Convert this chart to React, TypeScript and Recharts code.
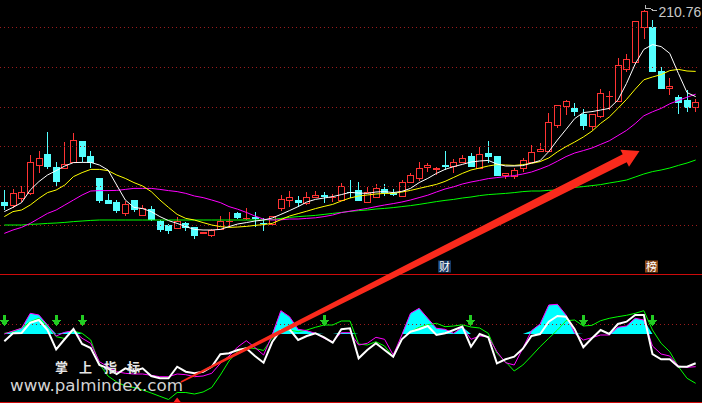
import React from "react";
import {
  ComposedChart,
  Bar,
  Line,
  Area,
  XAxis,
  YAxis,
  ReferenceLine,
  ReferenceDot,
} from "recharts";

// daily candles
const opens = [
  115, 113, 116.6, 119, 132.8, 139, 132.5, 131.7, 134.7, 145.5,
  138, 127, 116, 115, 109.2, 116, 108.2, 111.4, 105.7, 103.5,
  101.7, 104.7, 102.5, 98.9, 98.2, 101, 105.4, 109.5, 106.5, 107.7,
  104.5, 103.5, 111.4, 115.7, 116, 113.9, 117.2, 118.5, 117, 115.7,
  120.2, 121, 114.7, 116.9, 121.4, 119.4, 117.7, 124.4, 126.4, 132.2,
  131, 133.5, 132.4, 134.7, 138, 131.4, 139.5, 138, 128, 127.7,
  131.4, 134.4, 139.9, 140.2, 153, 162.7, 162, 159, 152.7, 157.7,
  167.8, 165.2, 181, 184.4, 202.2, 202.4, 180.5, 171.4, 167.7, 166,
  161.9,
];
const highs = [
  121, 121.5, 122.8, 138.6, 140.5, 150, 135, 145, 149.5, 145.5,
  140.5, 127, 119, 116, 115.7, 116, 113.5, 113, 106, 104,
  107.4, 105, 102.5, 100, 101.5, 108, 110, 110, 111.8, 110,
  106.8, 108.2, 118.5, 120.5, 118, 120, 120.5, 120, 119, 124.4,
  125.9, 125, 122.5, 124, 123.9, 121.5, 125.9, 129.4, 135, 134.4,
  132.5, 140.5, 136.5, 138.5, 139.7, 142.4, 145.5, 138, 129.7, 131.9,
  136.9, 143.5, 144.7, 159.4, 163.4, 166, 164.4, 161.7, 158.9, 171.5,
  170.7, 186.9, 189, 205.5, 210.76, 206, 182.7, 176.9, 168.5, 171,
  166.4,
];
const lows = [
  111, 112, 115.2, 118.5, 129.3, 131.7, 122.3, 131.5, 134.3, 135,
  131.8, 114.3, 114, 109.7, 108.2, 110.2, 108.2, 105.7, 100, 99,
  101.5, 100.5, 96.7, 98.9, 97.7, 101, 103, 106.5, 106, 102.7,
  100.5, 103.5, 110.5, 112.7, 112.7, 113.5, 117, 114.4, 115.2, 115.7,
  116.9, 115.7, 114.7, 116.9, 118, 118, 117.7, 124.4, 125.5, 130.2,
  128.5, 131, 129.4, 134.4, 132.7, 131.4, 134.4, 128, 126.4, 126.4,
  130.2, 134.4, 139.9, 140.2, 152.2, 158.5, 158, 151, 151, 157,
  161, 165.2, 180.2, 184.4, 196.4, 180, 171.4, 168.5, 158.9, 160.2,
  159.9,
];
const closes = [
  113, 119.3, 120, 135, 136.8, 132.7, 125, 133.8, 145.8, 137.7,
  134.7, 115.7, 114.2, 110.7, 114, 111, 112.2, 106, 101, 100.5,
  105.5, 101.9, 98.2, 100, 101, 105.5, 105.5, 107, 107.2, 106.4,
  104.2, 108.2, 116.5, 117.4, 114.4, 117.4, 118.4, 117.7, 117.7, 123,
  119.7, 115.7, 119.9, 121.9, 119.7, 118.4, 124.9, 128.4, 131.9, 133.5,
  131.9, 132.7, 135, 136.9, 132.7, 139, 137.4, 128, 129.7, 131,
  136, 139.9, 141.4, 154.9, 163.4, 165.4, 160.2, 153, 158.9, 169.4,
  168, 183.4, 186.4, 205.5, 210.6, 180, 171.4, 173.2, 164.7, 162.2,
  165.2,
];

// moving averages as drawn
const ma5 = [
  110.2, 112.3, 114.7, 121, 125.2, 128.5, 130.7, 133, 134.7, 134.8,
  134.8, 133.5, 131, 123.5, 116, 112.3, 111.7, 110.2, 107.7, 105.7,
  104.3, 102.7, 101.3, 101, 101, 101.3, 102.7, 104, 104.7, 105.5,
  106, 107, 108.8, 110.7, 112.7, 115, 116.3, 117, 117.7, 118.7,
  119.8, 119.5, 119.3, 120, 120.2, 119.7, 120.3, 121.8, 124.7, 126.8,
  129.3, 131.3, 132.7, 133.8, 135, 135.5, 135.8, 134, 133, 133,
  133.2, 134.5, 135.7, 140.2, 146, 151.3, 156.7, 159.7, 160.2, 161,
  161.8, 166, 174.3, 184, 191.3, 193.7, 192.7, 189.3, 179.3, 169.7,
  167.7,
];
const ma10 = [
  107.7, 110.2, 111, 113.5, 116.8, 119.7, 121, 123.5, 127.7, 129.7,
  131.3, 131.3, 130.7, 128.5, 126.8, 124.7, 123, 120.2, 116, 112.3,
  108.8, 106.8, 106, 104.7, 103.5, 102.7, 102.3, 102.5, 102.8, 103.3,
  103.7, 104.3, 106.2, 108, 109.2, 110.4, 111.7, 112.8, 113.8, 115.5,
  117, 118, 118.5, 119, 119.3, 119.3, 120, 120.8, 121.8, 122.8,
  123.8, 125.3, 127.3, 129.3, 131, 132, 133, 133.7, 133.5, 133.3,
  133.7, 134.3, 135.2, 137, 140.1, 142.7, 145, 147.5, 150.4, 154.3,
  157.5, 161.8, 166.3, 171.4, 176.1, 177.5, 178.7, 180.7, 181.3, 180.5,
  180.3,
];
const ma20 = [
  99.3, 101, 102.3, 104.3, 106.8, 109.3, 111, 113.5, 116, 118.5,
  120.5, 120.7, 120.7, 120.8, 121.3, 121.8, 121.8, 121.8, 121.3, 120.7,
  120.2, 119.3, 118, 117.2, 116, 114.7, 112.7, 111.4, 109.8, 108,
  106.4, 106, 106.1, 106.5, 106.5, 106.8, 107.1, 107.7, 108.5, 109.7,
  110.4, 111.1, 111.8, 112.7, 113.5, 114.2, 115, 116, 117.2, 118.4,
  120, 121.5, 122.6, 124, 125, 125.8, 126.7, 127.2, 127.7, 128.2,
  129, 130, 131.5, 133.2, 135.4, 137.7, 139.5, 140.7, 142, 143.8,
  145.6, 148.2, 150.8, 154.2, 158.1, 160.1, 161.8, 164.1, 165.8, 167.4,
  168.9,
];
const ma60 = [
  103.5, 103.5, 103.5, 103.8, 104, 104.3, 104.5, 104.8, 105.2, 105.5,
  105.8, 106, 106, 106, 106, 106, 106, 106, 106, 106,
  106, 106, 106, 106, 106, 106, 106, 106, 106, 106,
  106, 106.2, 106.8, 107.3, 107.7, 108, 108.3, 108.8, 109.3, 109.8,
  110.3, 110.7, 111, 111.5, 111.8, 112.2, 112.7, 113.2, 113.8, 114.5,
  115.2, 115.8, 116.3, 117, 117.5, 118.2, 118.7, 119, 119.3, 119.7,
  120.2, 120.5, 120.5, 120.8, 121, 121.7, 122.3, 122.7, 123.2, 123.7,
  124.5, 125.2, 126, 127.5, 129, 130.2, 131, 132, 133.3, 134.5,
  136,
];

// lower indicator panel
const oscWhite = [
  42.7, 50.7, 51, 61.3, 64, 54, 34.7, 45, 55, 40,
  36, 19, 15.7, 10, 15.7, 12.7, 15.7, 8, 5.7, 5.7,
  17.3, 12.3, 10.7, 12.3, 17.3, 29.7, 30.7, 34, 35.7, 28,
  21.3, 42, 54, 54.7, 44, 48, 50.7, 46.7, 41.3, 54.7,
  55.7, 25.7, 34, 40.7, 34, 27.3, 44.7, 52.3, 54.7, 58,
  49, 50.7, 54, 57.5, 37.3, 50, 46.7, 20.7, 24.7, 27.3,
  35.3, 48, 50, 62.3, 68, 67.3, 54.7, 36.7, 45.7, 54,
  50, 60, 62.3, 69, 69, 30, 24.7, 24.7, 17.3, 17.3,
  20.7,
];
const oscPink = [
  50, 53, 55.7, 70.7, 69, 59, 48, 51.7, 53.3, 45.7,
  40.7, 22.3, 17.3, 12.3, 10.7, 10, 10, 8.7, 7.3, 7.3,
  10, 9.3, 7.3, 8, 10.7, 20.7, 28, 37, 43.3, 36.5,
  29, 49, 73.3, 67.3, 54.7, 53.3, 50.7, 45.7, 42.3, 51.3,
  51.3, 39, 40.7, 46.7, 44.7, 29, 49, 70.7, 75.7, 65.7,
  55.7, 54.7, 50.7, 57, 44.7, 48, 47.3, 32.3, 21.3, 19,
  35.7, 53.3, 60, 79, 79.7, 69, 50.7, 44, 46.3, 49,
  49, 56.7, 58, 65.7, 64, 38, 30, 28, 18, 16.7,
  17.3,
];
const oscGreen = [
  50.7, 52.3, 56, 62.3, 65.7, 58, 47.3, 45.5, 53, 50.7,
  44, 20, 8, 2, -2, -3.5, -6, -9, -12.3, -15.5,
  -8.5, -8.5, -10, -8, -3.5, 9, 23, 33, 36.5, 35.5,
  33.5, 46, 53, 54, 52.3, 54, 56.7, 59, 59, 63,
  63, 40, 39, 42.3, 38, 27.3, 44.7, 52.3, 56.7, 59.3,
  60.7, 57.3, 58, 59.2, 57, 56, 50.7, 30.7, 22.3, 13,
  19, 28, 37.3, 45.7, 54, 63.3, 64, 58, 58.7, 63.3,
  65.7, 67.3, 68.7, 70.7, 73.3, 54, 40.7, 32.3, 17.3, 5.7,
  0.7,
];

const sellArrowDays = [0, 6, 9, 37, 54, 67, 75];
const buyMarkDays = [20];
const events = [
  { day: 51, label: "财", bg: "#173a66" },
  { day: 75, label: "榜", bg: "#8a4716" },
];
const gridPrices = [202.25, 182.25, 162.25, 142.75, 122.75, 103.25];

const RED = "#ff3333";
const CYAN = "#54ffff";
const GRID = "#9a1c1c";
const OSC_BASE = 50;
const EVENT_ROW = 82.75;
const ARROW_ROW = 57.5;
const PEAK = Math.max(...highs);

const priceRows = opens.map((o, i) => ({
  i,
  open: o,
  high: highs[i],
  low: lows[i],
  close: closes[i],
  ma5: ma5[i],
  ma10: ma10[i],
  ma20: ma20[i],
  ma60: ma60[i],
}));

const oscRows = oscWhite.map((w, i) => ({
  i,
  white: w,
  pink: oscPink[i],
  green: oscGreen[i],
}));

function Candle(props: any) {
  const { x, y, width, height, payload } = props;
  if (!payload || !Number.isFinite(y) || !Number.isFinite(height)) return null;
  const { open, close, high, low } = payload;
  const k = height / (high - low);
  const py = (v: number) => y + (high - v) * k;
  const cx = Math.floor(x + width / 2) + 0.5;
  const up = close >= open;
  const color = up ? RED : CYAN;
  const top = Math.round(py(Math.max(open, close)));
  const bot = Math.round(py(Math.min(open, close)));
  const yH = Math.round(py(high));
  const yL = Math.round(py(low));
  const flat = bot - top < 2;

  return (
    <g shapeRendering="crispEdges">
      {up ? (
        <>
          {top > yH && <line x1={cx} x2={cx} y1={yH} y2={top} stroke={color} />}
          {yL > bot && <line x1={cx} x2={cx} y1={bot} y2={yL} stroke={color} />}
        </>
      ) : (
        <line x1={cx} x2={cx} y1={yH} y2={yL} stroke={color} />
      )}
      {flat ? (
        <line x1={cx - 3.5} x2={cx + 3.5} y1={top + 0.5} y2={top + 0.5} stroke={color} />
      ) : up ? (
        <rect x={cx - 3} y={top + 0.5} width={6} height={bot - top - 1} fill="#000" stroke={color} />
      ) : (
        <rect x={cx - 3.5} y={top} width={7} height={bot - top} fill={color} />
      )}
      {high === PEAK && (
        <g>
          <polyline
            points={`${cx + 1},${yH - 5} ${cx + 1},${yH - 2} ${cx + 5},${yH - 2} ${cx + 8},${yH} ${cx + 12},${yH}`}
            fill="none"
            stroke="#b8b8b8"
          />
          <text x={cx + 14} y={yH + 7} fill="#c8c8c8" fontSize={14} fontFamily="Liberation Sans, Arial, sans-serif">
            {PEAK.toFixed(2)}
          </text>
        </g>
      )}
    </g>
  );
}

function EventTag({ cx, cy, label, bg }: any) {
  if (!Number.isFinite(cx) || !Number.isFinite(cy)) return null;
  const left = Math.floor(cx) - 7;
  return (
    <g>
      <rect x={left} y={cy - 6} width={13} height={12} fill={bg} />
      <text x={left + 6.5} y={cy + 4.5} textAnchor="middle" fill="#fff" fontSize={11} fontFamily="Noto Sans CJK SC">
        {label}
      </text>
    </g>
  );
}

function DownArrow({ cx, cy }: any) {
  if (!Number.isFinite(cx) || !Number.isFinite(cy)) return null;
  const c = Math.floor(cx) + 0.5;
  return (
    <g fill="#22cc22" shapeRendering="crispEdges">
      <rect x={c - 1.5} y={cy - 12} width={3} height={6} />
      <polygon points={`${c - 4.5},${cy - 6.5} ${c + 4.5},${cy - 6.5} ${c},${cy}`} />
    </g>
  );
}

function UpMark({ cx, cy }: any) {
  if (!Number.isFinite(cx) || !Number.isFinite(cy)) return null;
  return <polygon points={`${cx - 3.5},${cy} ${cx + 3.5},${cy} ${cx},${cy - 4.5}`} fill="#ff2020" />;
}

const watermarkChars = [
  { ch: "掌", x: 55 },
  { ch: "上", x: 79 },
  { ch: "指", x: 104 },
  { ch: "标", x: 127 },
];

export default function App() {
  return (
    <div
      style={{
        position: "fixed",
        left: 0,
        top: 0,
        width: 702,
        height: 403,
        background: "#000",
        overflow: "hidden",
      }}
    >
      <div style={{ position: "absolute", left: 0, top: 0 }}>
        <ComposedChart
          width={702}
          height={274}
          data={priceRows}
          margin={{ top: 0, right: 2, bottom: 0, left: 0 }}
          barCategoryGap={0}
          barGap={0}
        >
          <XAxis dataKey="i" type="category" scale="band" hide />
          <YAxis type="number" domain={[79, 216]} allowDataOverflow hide />
          {gridPrices.map((p) => (
            <ReferenceLine key={p} y={p} stroke={GRID} strokeDasharray="1 3" />
          ))}
          <Bar
            dataKey={(d: any) => [d.low, d.high]}
            shape={(p: any) => <Candle {...p} />}
            isAnimationActive={false}
          />
          <Line dataKey="ma60" stroke="#00ff00" strokeWidth={1} dot={false} activeDot={false} isAnimationActive={false} />
          <Line dataKey="ma20" stroke="#ff00ff" strokeWidth={1} dot={false} activeDot={false} isAnimationActive={false} />
          <Line dataKey="ma10" stroke="#ffff00" strokeWidth={1} dot={false} activeDot={false} isAnimationActive={false} />
          <Line dataKey="ma5" stroke="#ffffff" strokeWidth={1} dot={false} activeDot={false} isAnimationActive={false} />
          {events.map((e) => (
            <ReferenceDot
              key={e.day}
              x={e.day}
              y={EVENT_ROW}
              shape={(p: any) => <EventTag {...p} label={e.label} bg={e.bg} />}
            />
          ))}
        </ComposedChart>
      </div>

      <div style={{ position: "absolute", left: 0, top: 274, width: 702, height: 1, background: "#cc0a0a" }} />

      <div style={{ position: "absolute", left: 0, top: 274 }}>
        <ComposedChart
          width={702}
          height={128}
          data={oscRows}
          margin={{ top: 0, right: 2, bottom: 0, left: 0 }}
        >
          <XAxis dataKey="i" type="category" scale="band" hide />
          <YAxis type="number" domain={[-18, 110]} allowDataOverflow hide />
          <ReferenceLine y={59.5} stroke={GRID} strokeDasharray="1 3" />
          <Area
            dataKey={(d: any) => [OSC_BASE, Math.max(d.pink, OSC_BASE)]}
            type="linear"
            fill="#00ffff"
            fillOpacity={1}
            stroke="none"
            isAnimationActive={false}
            activeDot={false}
          />
          <Line dataKey="green" stroke="#00ff00" strokeWidth={1} dot={false} activeDot={false} isAnimationActive={false} />
          <Line dataKey="pink" stroke="#ff00ff" strokeWidth={1} dot={false} activeDot={false} isAnimationActive={false} />
          <Line dataKey="white" stroke="#ffffff" strokeWidth={2} dot={false} activeDot={false} isAnimationActive={false} />
          {sellArrowDays.map((d) => (
            <ReferenceDot key={`a${d}`} x={d} y={ARROW_ROW} shape={(p: any) => <DownArrow {...p} />} />
          ))}
          {buyMarkDays.map((d) => (
            <ReferenceDot key={`b${d}`} x={d} y={-18} shape={(p: any) => <UpMark {...p} />} />
          ))}
        </ComposedChart>
      </div>

      <div style={{ position: "absolute", left: 0, top: 402, width: 702, height: 1, background: "#cc0a0a" }} />

      <svg
        width={702}
        height={403}
        style={{ position: "absolute", left: 0, top: 0, pointerEvents: "none" }}
      >
        <polygon
          points="180.6,381.3 299,320 398.6,268.7 622.7,154.2 620.4,149.7 639.5,151 629,166.7 626.7,162.2 401.4,274.3 301,324 181.4,382.7"
          fill="#fa2a1c"
        />
        {watermarkChars.map((w) => (
          <text
            key={w.ch}
            x={w.x}
            y={372}
            fill="#e6e6e6"
            fontSize={13}
            fontWeight="bold"
            fontFamily="Noto Sans CJK SC"
          >
            {w.ch}
          </text>
        ))}
        <text
          x={10}
          y={390.5}
          fill="#d4d4d4"
          fontSize={16}
          fontFamily="DejaVu Sans, sans-serif"
          textLength={173}
          lengthAdjust="spacingAndGlyphs"
        >
          www.palmindex.com
        </text>
      </svg>
    </div>
  );
}
